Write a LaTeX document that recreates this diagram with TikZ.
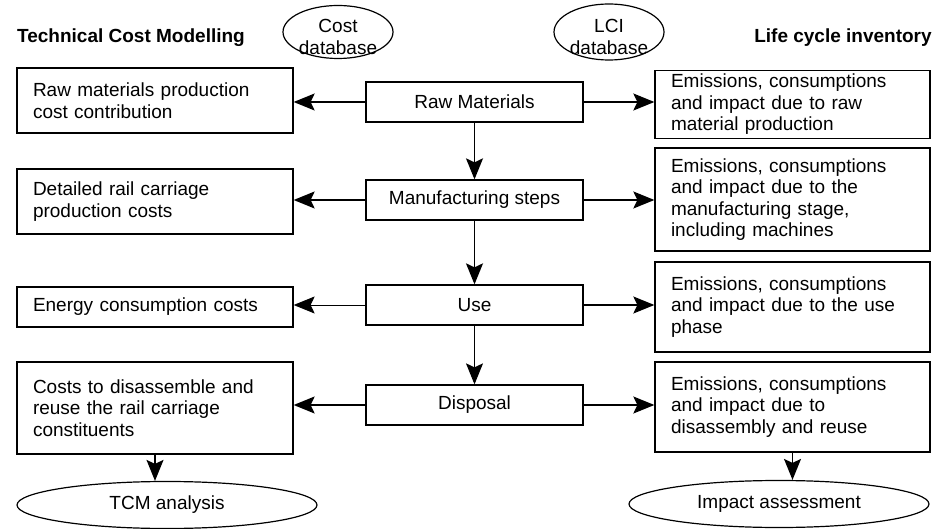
\documentclass[tikz,border=0pt]{standalone}
\usepackage{fontspec}
\setmainfont{Liberation Sans}
\usetikzlibrary{arrows.meta,shapes.geometric}

\tikzset{
    costbox/.style={draw,line width=1.3pt,text width=244pt,inner xsep=16pt,align=left},
    lcibox/.style={draw,line width=1.3pt,text width=243pt,inner xsep=16pt,align=left},
    stagebox/.style={draw,line width=1.3pt,minimum width=217pt,minimum height=40pt,align=center},
    dbell/.style={draw,ellipse,line width=1.2pt,minimum width=110pt,inner sep=0pt},
    resell/.style={draw,ellipse,line width=1.2pt,minimum width=300pt,minimum height=47pt,inner sep=0pt},
    heading/.style={font=\fontsize{19}{21.5}\selectfont\bfseries},
    arr/.style={line width=1.5pt,-{Stealth[length=21pt,width=17pt,inset=4pt]}},
    thinarr/.style={line width=0.9pt,-{Stealth[length=21pt,width=17pt,inset=4pt]}}
}

\begin{document}
\begin{tikzpicture}[x=1pt,y=-1pt,font=\fontsize{19}{21.5}\selectfont]
    \useasboundingbox (0,0) rectangle (934,529);
    % headings and databases
    \node[heading] (tcmhead) at (131,38) {Technical Cost Modelling};
    \node[heading] (lcihead) at (843,38) {Life cycle inventory};
    \node[dbell,minimum height=53pt,
        label={[align=center,yshift=-5pt]center:Cost\\database}] (costdb) at (338,32) {};
    \node[dbell,minimum height=56pt,
        label={[align=center,yshift=-5pt]center:LCI\\database}] (lcidb) at (609,32) {};

    % life cycle stages
    \node[stagebox] (raw) at (474.5,102) {Raw Materials};
    \node[stagebox] (manu) at (474.5,200) {Manufacturing steps};
    \node[stagebox] (use) at (474.5,305) {Use};
    \node[stagebox] (disp) at (474.5,405) {Disposal};

    % cost side
    \node[costbox,minimum height=65pt] (rawcost) at (155,100.5)
        {Raw materials production\\cost contribution};
    \node[costbox,minimum height=65pt] (manucost) at (155,201.5)
        {Detailed rail carriage\\production costs};
    \node[costbox,minimum height=40pt] (usecost) at (155,307)
        {Energy consumption costs};
    \node[costbox,minimum height=92pt] (dispcost) at (155,408)
        {Costs to disassemble and\\reuse the rail carriage\\constituents};

    % inventory side
    \node[lcibox,minimum height=67pt] (rawlci) at (792.5,104.5)
        {Emissions, consumptions\\and impact due to raw\\material production};
    \node[lcibox,minimum height=103pt] (manulci) at (792.5,199.5)
        {Emissions, consumptions\\and impact due to the\\manufacturing stage,\\including machines};
    \node[lcibox,minimum height=90pt] (uselci) at (792.5,307)
        {Emissions, consumptions\\and impact due to the use\\phase};
    \node[lcibox,minimum height=90pt] (displci) at (792.5,407)
        {Emissions, consumptions\\and impact due to\\disassembly and reuse};

    % results
    \node[resell] (tcm) at (167,505) {TCM analysis};
    \node[resell] (impact) at (779,504) {Impact assessment};

    % connectors
    \draw[arr] (raw) -- (manu);
    \draw[arr] (manu) -- (use);
    \draw[thinarr] (use) -- (disp);
    \draw[arr] (raw.west) -- (raw.west -| rawcost.east);
    \draw[arr] (raw.east) -- (raw.east -| rawlci.west);
    \draw[arr] (manu.west) -- (manu.west -| manucost.east);
    \draw[arr] (manu.east) -- (manu.east -| manulci.west);
    \draw[thinarr] (use.west) -- (use.west -| usecost.east);
    \draw[arr] (use.east) -- (use.east -| uselci.west);
    \draw[arr] (disp.west) -- (disp.west -| dispcost.east);
    \draw[arr] (disp.east) -- (disp.east -| displci.west);
    \draw[arr] (dispcost.south) -- (dispcost.south |- tcm.north);
    \draw[arr] (displci.south) -- (displci.south |- impact.north);
\end{tikzpicture}
\end{document}
